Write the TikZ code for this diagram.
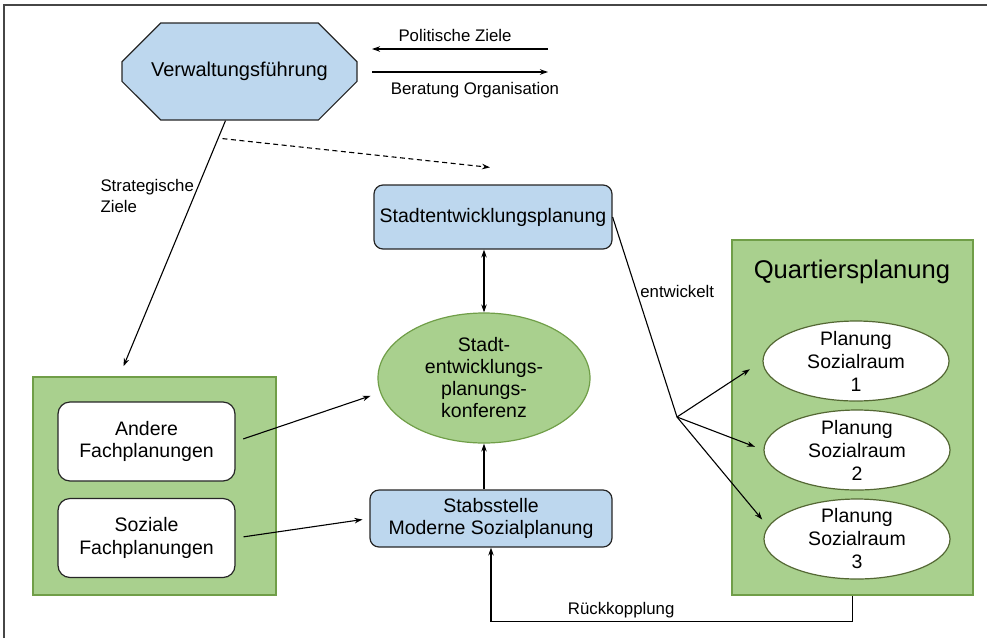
\documentclass[tikz,border=0pt]{standalone}
\usepackage{fontspec}
\setmainfont{Liberation Sans}
\usetikzlibrary{shapes.geometric, shapes.misc, arrows.meta, calc}
\definecolor{boxBlue}{RGB}{189,215,238}
\definecolor{areaGreen}{RGB}{169,208,142}
\definecolor{edgeGreen}{RGB}{112,158,72}
\definecolor{subEdge}{RGB}{84,104,52}
\definecolor{frameGray}{RGB}{70,70,70}
\tikzset{
    objOctagon/.style={chamfered rectangle, chamfered rectangle xsep=28pt, chamfered rectangle ysep=26pt, minimum width=235pt, minimum height=97pt, draw=black!85, line width=1.2pt, fill=boxBlue, font=\fontsize{20}{23}\selectfont},
    objBlueBox/.style={rectangle, rounded corners=9pt, align=center, draw=black!85, line width=1.2pt, fill=boxBlue, font=\fontsize{19.5}{22.5}\selectfont},
    objWhiteBox/.style={rectangle, rounded corners=12pt, minimum width=177pt, minimum height=79pt, align=center, draw=black!85, line width=1.2pt, fill=white, font=\fontsize{19.5}{22.5}\selectfont},
    objGreenArea/.style={rectangle, draw=edgeGreen, line width=1.5pt, fill=areaGreen},
    objConfEllipse/.style={ellipse, minimum width=212pt, minimum height=130pt, inner sep=0pt, align=center, draw=edgeGreen, line width=1.2pt, fill=areaGreen, font=\fontsize{19.5}{22}\selectfont},
    objSubEllipse/.style={ellipse, minimum width=186pt, minimum height=80pt, inner sep=0pt, draw=subEdge, line width=1.2pt, fill=white},
    objSubText/.style={align=center, font=\fontsize{19.5}{23}\selectfont},
    objLabel/.style={font=\fontsize{16.8}{21}\selectfont},
    arrow/.style={line width=1.1pt, ->, >={Stealth[length=8pt, width=5.5pt]}}
}

\begin{document}
\begin{tikzpicture}[x=1pt, y=-1pt]
    \useasboundingbox (0,0) rectangle (987,638);
    \draw [frameGray, line width=1.5pt] (4,638) -- (4,5) -- (987,5);

    \node (vf) [objOctagon] at (239.5,71.5) {Verwaltungsführung};
    \node (sep) [objBlueBox, minimum width=238pt, minimum height=64pt] at (493,217) {Stadtentwicklungsplanung};
    \node (sepk) [objConfEllipse] at (484,378) {Stadt-\\entwicklungs-\\planungs-\\konferenz};
    \node (stab) [objBlueBox, minimum width=242pt, minimum height=57pt] at (491,518.5) {Stabsstelle\\Moderne Sozialplanung};

    \node (fach) [objGreenArea, minimum width=243pt, minimum height=218pt] at (154.5,486) {};
    \node (andere) [objWhiteBox] at (146.5,441.5) {Andere\\Fachplanungen};
    \node (soziale) [objWhiteBox] at (146.5,538) {Soziale\\Fachplanungen};

    \node (quart) [objGreenArea, minimum width=241pt, minimum height=355pt] at (852.5,417.5) {};
    \node (quartTitle) [font=\fontsize{25.6}{28}\selectfont] at (852,272) {Quartiersplanung};
    \node (q1) [objSubEllipse, label={[objSubText]center:Planung\\Sozialraum\\1}] at (856,361) {};
    \node (q2) [objSubEllipse, label={[objSubText]center:Planung\\Sozialraum\\2}] at (857,450) {};
    \node (q3) [objSubEllipse, label={[objSubText]center:Planung\\Sozialraum\\3}] at (857,539) {};

    % Politik und Verwaltung
    \coordinate (polR) at (548,49);
    \coordinate (polL) at (372,49);
    \coordinate (berL) at (372,72);
    \coordinate (berR) at (548,72);
    \draw [arrow] (polR) -- node[objLabel, above=3pt, xshift=-5pt] {Politische Ziele} (polL);
    \draw [arrow] (berL) -- node[objLabel, below=6pt, xshift=15pt] {Beratung Organisation} (berR);

    \draw [arrow] ($(vf.south)+(-14,0)$) -- ($(fach.north)+(-31,-10)$);
    \node (stratLabel) [objLabel, align=left, anchor=west] at (97,196) {Strategische\\Ziele};
    \draw [arrow, dashed, dash pattern=on 5pt off 3.5pt] ($(vf.south)+(-17,18)$) -- ($(sep.north)+(-3,-17)$);

    \draw [arrow, <->] (sepk.north) -- (sepk.north |- sep.south);
    \draw [arrow] (sepk.south |- stab.north) -- (sepk.south);
    \draw [arrow, shorten <=8pt, shorten >=10pt] (andere.east) -- (sepk.188);
    \draw [arrow, shorten <=8pt, shorten >=7pt] (soziale.east) -- (stab.west);

    % Quartiere
    \coordinate (branch) at (677,417);
    \draw [line width=1.1pt] (sep.east) -- node[objLabel, pos=0.37, right] {entwickelt} (branch);
    \draw [arrow, shorten >=15pt] (branch) -- (q1.west);
    \draw [arrow, shorten >=9pt] (branch) -- (q2.west);
    \draw [arrow, shorten >=9pt] (branch) -- (q3.172);

    \draw [arrow] (quart.south) -- ++(0,26) -| node[objLabel, pos=0.32, above] {Rückkopplung} (stab.south);

\end{tikzpicture}
\end{document}
